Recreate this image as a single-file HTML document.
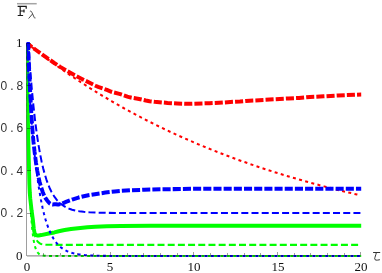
<!DOCTYPE html>
<html><head><meta charset="utf-8"><title>plot</title>
<style>
html,body{margin:0;padding:0;background:#fff;}
body{width:382px;height:273px;position:relative;overflow:hidden;font-family:"Liberation Serif",serif;color:#111;}
.t{position:absolute;white-space:nowrap;line-height:1;will-change:transform;}
.s{font-family:"Liberation Serif",serif;font-size:13px;}
.m{font-family:"Liberation Sans",sans-serif;font-size:12px;color:#333;}
.m span{display:inline-block;width:7.9px;text-align:center;}
</style></head><body>
<svg width="382" height="273" viewBox="0 0 382 273" style="position:absolute;left:0;top:0">
<defs><clipPath id="c"><rect x="26.4" y="41.9" width="335.1" height="216"/></clipPath></defs>
<g clip-path="url(#c)"><g fill="none" stroke-linejoin="round" transform="scale(1,1.03)">
<path d="M26.70 41.75 L27.15 71.36 L27.63 100.96 L28.20 130.57 L28.91 160.18 L29.37 178.62 L29.73 186.86 L30.24 192.66 L31.59 204.24 L32.88 213.38 L33.82 222.08 L34.31 224.98 L34.71 226.37 L35.14 227.26 L35.45 227.69 L35.80 228.03 L36.18 228.24 L37.14 228.54 L37.67 228.62 L38.66 228.61 L41.14 228.26 L49.94 226.42 L54.37 225.65 L58.73 224.57 L64.61 223.39 L71.02 222.38 L77.97 221.53 L87.42 220.63 L95.41 220.14 L106.90 219.65 L120.89 219.40 L150.39 219.24 L180.39 219.22 L210.39 219.22 L240.39 219.22 L270.39 219.22 L299.89 219.22 L329.39 219.22 L358.89 219.22 L361.40 219.22" stroke="#0f0" stroke-width="3.9"/>
<path d="M26.70 41.75 L27.12 70.10 L27.62 98.76 L28.24 127.80 L29.04 156.04 L29.83 177.03 L30.62 192.62 L31.42 204.21 L32.21 212.82 L33.00 219.23 L33.80 223.98 L34.59 227.52 L35.38 230.14 L36.18 232.10 L37.01 233.61 L37.89 234.77 L38.85 235.67 L39.93 236.36 L41.23 236.89 L42.90 237.29 L45.24 237.55 L49.58 237.71 L79.47 237.74 L109.37 237.74 L139.05 237.74 L168.74 237.74 L198.43 237.74 L228.12 237.74 L257.81 237.74 L287.50 237.74 L317.19 237.74 L346.88 237.74 L361.10 237.74" stroke="#0f0" stroke-width="2.0" stroke-dasharray="7.0 3.19" stroke-dashoffset="1.42"/>
<path d="M26.70 41.75 L27.12 71.67 L27.58 99.61 L28.16 128.88 L28.91 158.23 L29.71 181.44 L30.50 198.69 L31.29 211.51 L32.09 221.03 L32.88 228.11 L33.67 233.37 L34.47 237.28 L35.26 240.19 L36.05 242.35 L36.89 244.02 L37.76 245.30 L38.68 246.26 L39.73 247.01 L40.94 247.59 L42.44 248.02 L44.40 248.32 L47.74 248.51 L57.43 248.59 L87.32 248.59 L117.32 248.59 L147.04 248.59 L176.77 248.59 L206.49 248.59 L236.22 248.59 L265.94 248.59 L295.67 248.59 L325.39 248.59 L355.12 248.59 L361.40 248.59" stroke="#0f0" stroke-width="2.0" stroke-dasharray="3.0 3.35" stroke-dashoffset="5.56"/>
<path d="M26.70 41.75 L35.97 48.54 L45.91 55.51 L54.25 61.13 L60.60 65.16 L66.28 68.48 L74.80 73.10 L80.97 76.19 L90.66 80.89 L95.50 83.26 L98.18 84.35 L102.69 85.85 L106.86 87.26 L111.46 89.11 L113.55 89.75 L119.41 91.10 L122.76 92.19 L127.37 93.79 L129.88 94.48 L132.81 95.05 L139.09 96.05 L142.44 96.81 L145.79 97.59 L149.55 98.21 L154.58 98.79 L167.56 99.91 L177.19 100.49 L184.30 100.77 L190.58 100.76 L209.42 100.20 L219.05 99.77 L233.71 98.85 L239.99 98.54 L245.85 98.00 L263.85 97.02 L288.55 95.57 L299.02 95.10 L304.04 94.69 L309.90 94.17 L323.72 93.53 L337.95 92.71 L361.40 91.75" stroke="#f00" stroke-width="3.9" stroke-dasharray="8.1 2.08" stroke-dashoffset="1.52"/>
<path d="M26.70 41.75 L36.93 49.55 L47.24 57.12 L57.76 64.54 L68.28 71.68 L78.97 78.65 L89.83 85.44 L100.85 92.06 L111.87 98.41 L123.12 104.63 L134.79 110.81 L146.46 116.73 L158.55 122.59 L170.64 128.18 L183.15 133.71 L195.65 138.99 L208.57 144.18 L221.91 149.29 L235.25 154.15 L249.01 158.90 L263.18 163.56 L277.77 168.10 L292.77 172.51 L308.20 176.80 L324.04 180.95 L340.29 184.96 L356.97 188.82 L360.30 189.57" stroke="#f00" stroke-width="2.0" stroke-dasharray="3.0 3.35" stroke-dashoffset="6.30"/>
<path d="M26.70 41.75 L26.99 41.61 L27.24 41.72 L27.41 41.90 L27.54 41.76 L27.74 41.32 L27.83 41.33 L27.95 41.79 L28.16 44.47 L28.79 61.78 L30.00 86.01 L31.38 110.97 L32.55 127.44 L33.42 137.16 L34.59 147.57 L36.05 158.34 L37.22 165.57 L38.43 171.70 L39.64 176.73 L40.98 181.34 L42.61 186.07 L43.90 189.30 L44.90 191.37 L45.74 192.76 L47.07 194.48 L49.08 196.79 L49.91 197.55 L50.75 198.07 L51.58 198.35 L52.58 198.48 L54.59 198.38 L55.92 198.35 L57.76 198.58 L58.93 198.47 L60.93 197.97 L62.77 197.34 L65.94 196.08 L72.96 193.50 L78.47 191.81 L82.64 190.76 L88.32 189.59 L94.84 188.51 L105.36 186.97 L114.81 185.89 L121.09 185.32 L131.55 184.69 L144.11 184.20 L161.28 183.79 L191.00 183.34 L214.87 183.30 L244.59 183.30 L274.32 183.30 L304.04 183.30 L333.77 183.30 L361.40 183.30" stroke="#00f" stroke-width="3.9" stroke-dasharray="8.1 2.08" stroke-dashoffset="9.22"/>
<path d="M26.70 41.75 L28.29 41.75 L30.12 66.64 L31.75 85.71 L33.38 102.19 L35.01 116.42 L36.64 128.72 L38.26 139.34 L39.89 148.52 L41.52 156.45 L43.15 163.30 L44.74 169.07 L46.41 174.33 L48.08 178.85 L49.75 182.74 L51.42 186.09 L53.09 188.98 L54.76 191.46 L56.59 193.79 L58.43 195.77 L60.27 197.45 L62.27 198.99 L64.44 200.37 L66.78 201.59 L69.28 202.64 L72.12 203.57 L75.30 204.37 L79.14 205.08 L83.65 205.65 L89.33 206.11 L97.01 206.45 L108.86 206.68 L135.29 206.79 L164.98 206.80 L194.67 206.80 L224.36 206.80 L254.05 206.80 L283.74 206.80 L313.43 206.80 L343.12 206.80 L361.10 206.80" stroke="#00f" stroke-width="2.0" stroke-dasharray="7.0 3.19" stroke-dashoffset="0.63"/>
<path d="M26.70 41.75 L28.29 70.28 L29.87 94.88 L31.46 116.08 L33.05 134.36 L34.63 150.12 L36.22 163.70 L37.81 175.41 L39.39 185.51 L40.98 194.21 L42.56 201.71 L44.07 207.86 L45.57 213.21 L47.07 217.85 L48.58 221.88 L50.25 225.74 L51.92 229.05 L53.59 231.88 L55.26 234.29 L56.93 236.36 L58.76 238.29 L60.60 239.92 L62.61 241.40 L64.78 242.72 L67.11 243.88 L69.62 244.86 L72.46 245.73 L75.80 246.50 L79.64 247.13 L84.48 247.66 L90.66 248.07 L99.34 248.36 L114.39 248.54 L144.11 248.59 L173.84 248.59 L203.56 248.59 L233.29 248.59 L263.01 248.59 L292.74 248.59 L322.46 248.59 L352.19 248.59 L361.40 248.59" stroke="#00f" stroke-width="2.0" stroke-dasharray="3.0 3.35" stroke-dashoffset="6.18"/>
</g></g>
<path d="M26.5 42.6 V256.4" stroke="#000" stroke-opacity="0.38" stroke-width="1" fill="none" shape-rendering="crispEdges"/>
<path d="M27 255.95 H361" stroke="#000" stroke-opacity="0.42" stroke-width="1.3" fill="none"/>
<g stroke="#000" stroke-opacity="0.38" stroke-width="1" fill="none" shape-rendering="crispEdges">
<path d="M43.5 255 V253.0"/>
<path d="M60.5 255 V253.0"/>
<path d="M77.5 255 V253.0"/>
<path d="M93.5 255 V253.0"/>
<path d="M110.5 255 V251.5"/>
<path d="M127.5 255 V253.0"/>
<path d="M143.5 255 V253.0"/>
<path d="M160.5 255 V253.0"/>
<path d="M177.5 255 V253.0"/>
<path d="M193.5 255 V251.5"/>
<path d="M210.5 255 V253.0"/>
<path d="M227.5 255 V253.0"/>
<path d="M244.5 255 V253.0"/>
<path d="M260.5 255 V253.0"/>
<path d="M277.5 255 V251.5"/>
<path d="M294.5 255 V253.0"/>
<path d="M310.5 255 V253.0"/>
<path d="M327.5 255 V253.0"/>
<path d="M344.5 255 V253.0"/>
<path d="M360.5 255 V251.5"/>
<path d="M27 213.5 H30.8"/>
<path d="M27 170.5 H30.8"/>
<path d="M27 128.5 H30.8"/>
<path d="M27 85.5 H30.8"/>
<path d="M27 43.5 H30.8"/>
</g>
<path d="M17 3.7 H36.7" stroke="#a4a4a4" stroke-width="1.5" fill="none"/>
<path d="M17.6 6.45 H26.2 V8.7 M20.2 6.45 V15.5 M17.7 15.5 H23.1 M20.2 11 H24 M24 9.4 V12.6" stroke="#1a1a1a" stroke-width="1.2" fill="none"/>
<path d="M29.9 11.5 C30.6 10.8 31.4 11 31.9 12.4 L34.2 17.4 C34.5 18.2 35 18.4 35.5 17.9 M32.5 14 L28.6 18.5" stroke="#444" stroke-width="0.95" fill="none"/>
<path d="M373.1 252.5 H380.2 M376.3 252.6 C376 254.8 374.7 257.4 374.7 258.8 C374.7 260.3 376.6 260.5 379.9 259.7" stroke="#333" stroke-width="1" fill="none"/>
</svg>
<div class="t s" style="left:16px;width:6.3px;text-align:right;top:35.8px;">1</div>
<div class="t m" style="left:-0.35px;top:79.8px;"><span>0</span><span>.</span><span>8</span></div>
<div class="t m" style="left:-0.35px;top:122.3px;"><span>0</span><span>.</span><span>6</span></div>
<div class="t m" style="left:-0.35px;top:164.8px;"><span>0</span><span>.</span><span>4</span></div>
<div class="t m" style="left:-0.35px;top:207.3px;"><span>0</span><span>.</span><span>2</span></div>

<div class="t s" style="left:15.8px;top:249.2px;">0</div>
<div class="t s" style="left:17px;width:20px;text-align:center;top:260px;">0</div>
<div class="t s" style="left:100.2px;width:20px;text-align:center;top:260px;">5</div>
<div class="t s" style="left:184.2px;width:20px;text-align:center;top:260px;">10</div>
<div class="t s" style="left:267.8px;width:20px;text-align:center;top:260px;">15</div>
<div class="t s" style="left:351.4px;width:20px;text-align:center;top:260px;">20</div>
</body></html>
